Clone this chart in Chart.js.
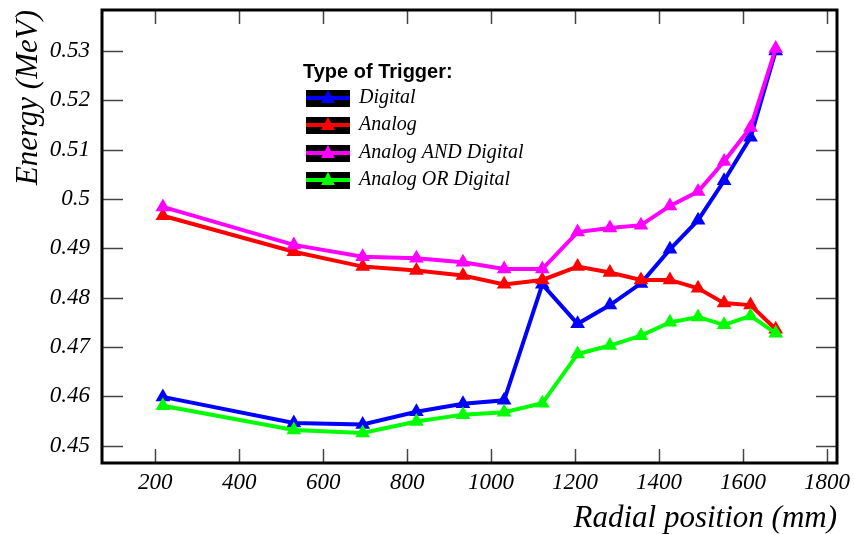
<!DOCTYPE html>
<html>
<head>
<meta charset="utf-8">
<script src="https://cdn.jsdelivr.net/npm/chart.js@4"></script>
<style>
  html, body { margin: 0; padding: 0; background: #fff; }
  #wrap { width: 854px; height: 534px; }
</style>
</head>
<body>
<div id="wrap"><canvas id="chart" width="854" height="534"></canvas></div>
<script>
// Data
const radius = [218, 530, 694, 822, 933, 1031, 1122, 1206, 1283, 1357, 1426, 1493, 1555, 1618, 1678];
const digital = [0.4599, 0.4546, 0.4543, 0.4569, 0.4585, 0.4592, 0.4827, 0.4747, 0.4785, 0.4829, 0.4898, 0.4957, 0.5037, 0.5125, 0.5300];
const analog = [0.4966, 0.4893, 0.4863, 0.4855, 0.4845, 0.4827, 0.4836, 0.4863, 0.4851, 0.4836, 0.4836, 0.4819, 0.4789, 0.4785, 0.4736];
const analogAndDigital = [0.4984, 0.4907, 0.4883, 0.4880, 0.4872, 0.4858, 0.4858, 0.4933, 0.4941, 0.4947, 0.4986, 0.5015, 0.5076, 0.5145, 0.5305];
const analogOrDigital = [0.4581, 0.4532, 0.4526, 0.4549, 0.4563, 0.4568, 0.4586, 0.4686, 0.4703, 0.4723, 0.4750, 0.4761, 0.4745, 0.4763, 0.4728];

const seriesNames = ["Digital", "Analog", "Analog AND Digital", "Analog OR Digital"];
const seriesColors = ["#0000ff", "#ff0000", "#ff00ff", "#00ff00"];
const xTicks = [200, 400, 600, 800, 1000, 1200, 1400, 1600, 1800];
const yTicks = [0.45, 0.46, 0.47, 0.48, 0.49, 0.5, 0.51, 0.52, 0.53];

const serif = "'Liberation Serif', 'DejaVu Serif', serif";

function makeSet(i, values) {
  return {
    label: seriesNames[i],
    data: radius.map((r, k) => ({ x: r, y: values[k] })),
    borderColor: seriesColors[i],
    backgroundColor: seriesColors[i],
    borderWidth: 4,
    pointStyle: "triangle",
    pointRadius: 8.5,
    pointBorderWidth: 0,
    tension: 0,
    order: 4 - i, // later series drawn on top, as in the original
  };
}

// frame with inward ticks, plus the boxed legend
const frameAndLegend = {
  id: "frameAndLegend",
  afterDatasetsDraw(chart) {
    const { ctx, chartArea: a, scales } = chart;
    const xs = scales.x, ys = scales.y;
    ctx.save();
    ctx.strokeStyle = "#444";
    ctx.lineWidth = 1.5;
    ctx.beginPath();
    xs.ticks.forEach((t) => {
      const px = Math.round(xs.getPixelForValue(t.value)) + 0.5;
      ctx.moveTo(px, a.bottom); ctx.lineTo(px, a.bottom - 14);
      ctx.moveTo(px, a.top); ctx.lineTo(px, a.top + 14);
    });
    ys.ticks.forEach((t) => {
      const py = Math.round(ys.getPixelForValue(t.value)) + 0.5;
      ctx.moveTo(a.left, py); ctx.lineTo(a.left + 21, py);
      ctx.moveTo(a.right, py); ctx.lineTo(a.right - 21, py);
    });
    ctx.stroke();

    ctx.strokeStyle = "#000";
    ctx.lineWidth = 3;
    ctx.strokeRect(a.left, a.top, a.width, a.height);

    // legend
    ctx.fillStyle = "#000";
    ctx.font = "bold 20px 'Liberation Sans', Arial, sans-serif";
    ctx.textBaseline = "middle";
    ctx.textAlign = "left";
    ctx.fillText("Type of Trigger:", 303, 72);
    const rows = [98, 125, 153, 180];
    chart.data.datasets.forEach((ds, i) => {
      const cy = rows[i];
      ctx.fillStyle = "#000";
      ctx.fillRect(306, cy - 8, 44, 17);
      ctx.strokeStyle = ds.borderColor;
      ctx.lineWidth = 4;
      ctx.beginPath();
      ctx.moveTo(306, cy); ctx.lineTo(350, cy);
      ctx.stroke();
      ctx.fillStyle = ds.borderColor;
      ctx.beginPath();
      ctx.moveTo(328, cy - 8);
      ctx.lineTo(335, cy + 5);
      ctx.lineTo(321, cy + 5);
      ctx.closePath();
      ctx.fill();
      ctx.fillStyle = "#000";
      ctx.font = "italic 20px " + serif;
      ctx.fillText(ds.label, 359, cy);
    });
    ctx.restore();
  },
};

new Chart(document.getElementById("chart"), {
  type: "line",
  data: {
    datasets: [
      makeSet(0, digital),
      makeSet(1, analog),
      makeSet(2, analogAndDigital),
      makeSet(3, analogOrDigital),
    ],
  },
  options: {
    responsive: false,
    animation: false,
    layout: { padding: { top: 10, right: 17 } },
    plugins: { legend: { display: false }, tooltip: { enabled: false } },
    scales: {
      x: {
        type: "linear",
        min: 73,
        max: 1824,
        afterBuildTicks: (s) => { s.ticks = xTicks.map((v) => ({ value: v })); },
        afterFit: (s) => { s.height = 71; s.paddingLeft = 0; s.paddingRight = 0; },
        grid: { display: false, drawTicks: false },
        border: { display: false },
        ticks: {
          color: "#000",
          padding: 6,
          maxRotation: 0,
          font: { family: serif, style: "italic", size: 23 },
          callback: (v) => String(v),
        },
        title: {
          display: true,
          text: "Radial position (mm)",
          align: "end",
          color: "#000",
          padding: 0,
          font: { family: serif, style: "italic", size: 31, lineHeight: 0.95 },
        },
      },
      y: {
        min: 0.4465,
        max: 0.5383,
        afterBuildTicks: (s) => { s.ticks = yTicks.map((v) => ({ value: v })); },
        afterFit: (s) => { s.width = 102; s.paddingTop = 0; s.paddingBottom = 0; },
        grid: { display: false, drawTicks: false },
        border: { display: false },
        ticks: {
          color: "#000",
          padding: 12,
          font: { family: serif, style: "italic", size: 23 },
          callback: (v) => String(v),
        },
        title: {
          display: true,
          text: "Energy (MeV)",
          align: "end",
          color: "#000",
          padding: { top: 10, bottom: 0 },
          font: { family: serif, style: "italic", size: 31 },
        },
      },
    },
  },
  plugins: [frameAndLegend],
});
</script>
</body>
</html>
